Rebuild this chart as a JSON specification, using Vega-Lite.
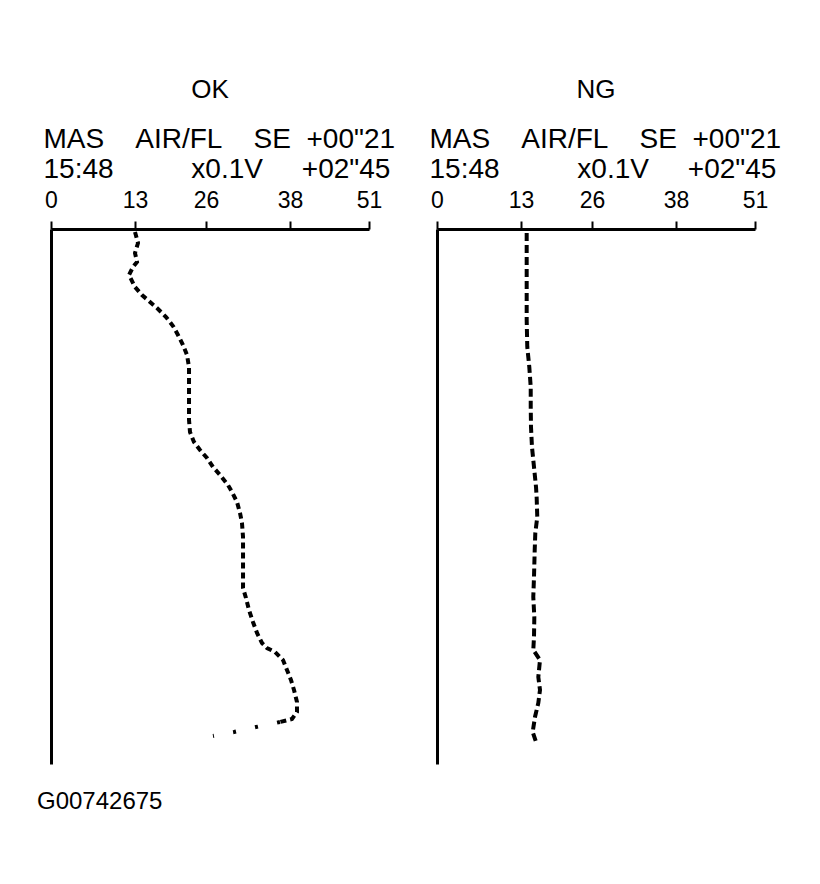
{
  "$schema": "https://vega.github.io/schema/vega-lite/v6.json",
  "background": "white",
  "padding": {"left": 37, "top": 77, "right": 0, "bottom": 0},
  "config": {
    "view": {"stroke": null},
    "font": "Liberation Sans",
    "title": {"font": "Liberation Sans", "fontWeight": "normal", "color": "black"},
    "axis": {"grid": false, "domainColor": "black", "tickColor": "black", "labelColor": "black", "titleColor": "black"}
  },
  "title": {
    "text": "G00742675",
    "orient": "bottom",
    "anchor": "start",
    "fontSize": 24,
    "offset": 26,
    "dx": -6
  },
  "datasets": {
    "ok": [
      {"t": 3, "v": 13.0, "part": "main"},
      {"t": 14, "v": 13.55, "part": "main"},
      {"t": 24, "v": 13.0, "part": "main"},
      {"t": 33, "v": 13.37, "part": "main"},
      {"t": 38, "v": 12.69, "part": "main"},
      {"t": 46, "v": 12.07, "part": "main"},
      {"t": 58, "v": 13.0, "part": "main"},
      {"t": 66, "v": 14.28, "part": "main"},
      {"t": 73, "v": 15.75, "part": "main"},
      {"t": 80, "v": 17.21, "part": "main"},
      {"t": 88, "v": 18.68, "part": "main"},
      {"t": 97, "v": 19.96, "part": "main"},
      {"t": 106, "v": 20.87, "part": "main"},
      {"t": 116, "v": 21.79, "part": "main"},
      {"t": 126, "v": 22.52, "part": "main"},
      {"t": 138, "v": 22.89, "part": "main"},
      {"t": 151, "v": 22.89, "part": "main"},
      {"t": 164, "v": 22.89, "part": "main"},
      {"t": 178, "v": 22.89, "part": "main"},
      {"t": 191, "v": 22.89, "part": "main"},
      {"t": 203, "v": 23.07, "part": "main"},
      {"t": 213, "v": 23.8, "part": "main"},
      {"t": 221, "v": 24.9, "part": "main"},
      {"t": 229, "v": 26.14, "part": "main"},
      {"t": 238, "v": 27.0, "part": "main"},
      {"t": 246, "v": 28.0, "part": "main"},
      {"t": 256, "v": 29.14, "part": "main"},
      {"t": 263, "v": 29.71, "part": "main"},
      {"t": 273, "v": 30.43, "part": "main"},
      {"t": 284, "v": 30.86, "part": "main"},
      {"t": 294, "v": 31.14, "part": "main"},
      {"t": 308, "v": 31.29, "part": "main"},
      {"t": 321, "v": 31.29, "part": "main"},
      {"t": 334, "v": 31.29, "part": "main"},
      {"t": 348, "v": 31.29, "part": "main"},
      {"t": 359, "v": 31.29, "part": "main"},
      {"t": 369, "v": 31.71, "part": "main"},
      {"t": 381, "v": 32.14, "part": "main"},
      {"t": 393, "v": 32.71, "part": "main"},
      {"t": 404, "v": 33.29, "part": "main"},
      {"t": 414, "v": 34.0, "part": "main"},
      {"t": 419, "v": 34.71, "part": "main"},
      {"t": 423, "v": 35.86, "part": "main"},
      {"t": 431, "v": 37.0, "part": "main"},
      {"t": 441, "v": 37.57, "part": "main"},
      {"t": 451, "v": 38.16, "part": "main"},
      {"t": 461, "v": 38.66, "part": "main"},
      {"t": 473, "v": 39.15, "part": "main"},
      {"t": 483, "v": 39.15, "part": "main"},
      {"t": 490, "v": 38.33, "part": "main"},
      {"t": 493, "v": 36.57, "part": "main"},
      {"t": 493, "v": 36.57, "part": "tail"},
      {"t": 498, "v": 33.14, "part": "tail"},
      {"t": 503, "v": 30.0, "part": "tail"},
      {"t": 507, "v": 27.0, "part": "tail"}
    ],
    "ng": [
      {"t": 4, "v": 14.04},
      {"t": 24, "v": 14.04},
      {"t": 58, "v": 14.04},
      {"t": 91, "v": 14.04},
      {"t": 118, "v": 14.15},
      {"t": 138, "v": 14.52},
      {"t": 158, "v": 14.78},
      {"t": 178, "v": 14.78},
      {"t": 198, "v": 14.83},
      {"t": 218, "v": 15.01},
      {"t": 238, "v": 15.38},
      {"t": 258, "v": 15.75},
      {"t": 269, "v": 15.87},
      {"t": 288, "v": 15.98},
      {"t": 304, "v": 15.62},
      {"t": 321, "v": 15.51},
      {"t": 348, "v": 15.38},
      {"t": 368, "v": 15.25},
      {"t": 388, "v": 15.44},
      {"t": 408, "v": 15.38},
      {"t": 421, "v": 15.25},
      {"t": 431, "v": 16.48},
      {"t": 448, "v": 16.17},
      {"t": 461, "v": 16.48},
      {"t": 474, "v": 16.17},
      {"t": 488, "v": 15.56},
      {"t": 503, "v": 15.14},
      {"t": 513, "v": 15.75}
    ]
  },
  "hconcat": [
    {
      "title": {"text": "OK", "fontSize": 26, "offset": 22, "anchor": "middle"},
      "width": 318,
      "height": 535,
      "data": {"name": "ok"},
      "mark": {"type": "line", "color": "black", "strokeWidth": 4},
      "encoding": {
        "x": {
          "field": "v",
          "type": "quantitative",
          "scale": {"domain": [0, 13, 26, 38, 51], "range": [0, 84, 155, 239, 318], "nice": false, "zero": false},
          "axis": {
            "orient": "top",
            "values": [0, 13, 26, 38, 51],
            "labelFontSize": 23,
            "labelFont": "Liberation Sans",
            "labelPadding": 9,
            "labelFlush": false,
            "labelOverlap": false,
            "tickSize": 8,
            "tickWidth": 2,
            "domainWidth": 3,
            "title": ["MAS\u00a0\u00a0\u00a0\u00a0AIR/FL\u00a0\u00a0\u00a0\u00a0SE\u00a0\u00a0+00\"21", "15:48\u00a0\u00a0\u00a0\u00a0\u00a0\u00a0\u00a0\u00a0\u00a0\u00a0x0.1V\u00a0\u00a0\u00a0\u00a0\u00a0+02\"45"],
            "titleFont": "Liberation Sans",
            "titleFontSize": 28,
            "titleFontWeight": "normal",
            "titleAnchor": "start",
            "titleAlign": "left",
            "titleBaseline": "top",
            "titleLineHeight": 30,
            "titleX": -8,
            "titleY": -104
          }
        },
        "y": {
          "field": "t",
          "type": "quantitative",
          "scale": {"domain": [0, 535], "reverse": true, "nice": false, "zero": false},
          "axis": {"orient": "left", "labels": false, "ticks": false, "title": null, "domainWidth": 3}
        },
        "order": {"field": "t"},
        "strokeDash": {
          "field": "part",
          "type": "nominal",
          "scale": {"domain": ["main", "tail"], "range": [[6, 4], [3, 19.5]]},
          "legend": null
        }
      }
    },
    {
      "title": {"text": "NG", "fontSize": 26, "offset": 22, "anchor": "middle"},
      "width": 318,
      "height": 535,
      "data": {"name": "ng"},
      "mark": {"type": "line", "color": "black", "strokeWidth": 4, "strokeDash": [8, 4]},
      "encoding": {
        "x": {
          "field": "v",
          "type": "quantitative",
          "scale": {"domain": [0, 13, 26, 38, 51], "range": [0, 84, 155, 239, 318], "nice": false, "zero": false},
          "axis": {
            "orient": "top",
            "values": [0, 13, 26, 38, 51],
            "labelFontSize": 23,
            "labelFont": "Liberation Sans",
            "labelPadding": 9,
            "labelFlush": false,
            "labelOverlap": false,
            "tickSize": 8,
            "tickWidth": 2,
            "domainWidth": 3,
            "title": ["MAS\u00a0\u00a0\u00a0\u00a0AIR/FL\u00a0\u00a0\u00a0\u00a0SE\u00a0\u00a0+00\"21", "15:48\u00a0\u00a0\u00a0\u00a0\u00a0\u00a0\u00a0\u00a0\u00a0\u00a0x0.1V\u00a0\u00a0\u00a0\u00a0\u00a0+02\"45"],
            "titleFont": "Liberation Sans",
            "titleFontSize": 28,
            "titleFontWeight": "normal",
            "titleAnchor": "start",
            "titleAlign": "left",
            "titleBaseline": "top",
            "titleLineHeight": 30,
            "titleX": -8,
            "titleY": -104
          }
        },
        "y": {
          "field": "t",
          "type": "quantitative",
          "scale": {"domain": [0, 535], "reverse": true, "nice": false, "zero": false},
          "axis": {"orient": "left", "labels": false, "ticks": false, "title": null, "domainWidth": 3}
        },
        "order": {"field": "t"}
      }
    }
  ],
  "bounds": "flush",
  "spacing": 68
}
